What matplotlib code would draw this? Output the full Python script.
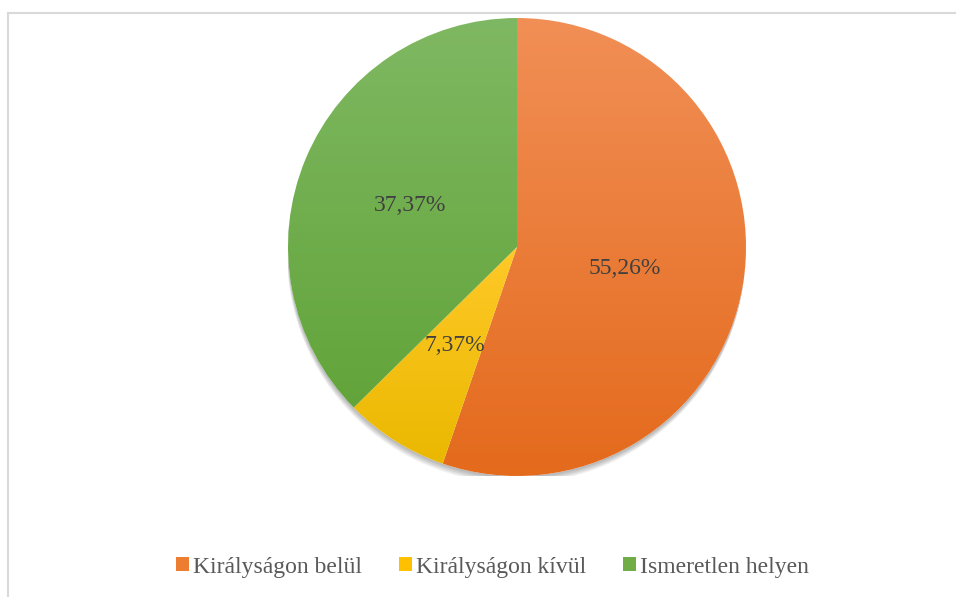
import matplotlib.pyplot as plt
import numpy as np
from matplotlib.colors import LinearSegmentedColormap
from matplotlib.patches import Circle
from matplotlib.lines import Line2D

# adatok
kategoriak = ["Királyságon belül", "Királyságon kívül", "Ismeretlen helyen"]
ertekek = [55.26, 7.37, 37.37]
cimkek = ["55,26%", "7,37%", "37,37%"]
cimke_pozicio = [(0.472, -0.092), (-0.271, -0.428), (-0.467, 0.183)]
szin_felso = ["#F18F56", "#FFC928", "#7FB862"]
szin_also = ["#E46A1C", "#EAB800", "#62A43A"]
szin_legenda = ["#ED7D31", "#FFC000", "#70AD47"]

plt.rcParams['font.family'] = ['Liberation Serif', 'DejaVu Serif']

fig = plt.figure(figsize=(9.56, 5.97), dpi=100)
W, H = 956, 597

# keret (felso es bal vonal)
fig.add_artist(Line2D([7.5 / W, 1], [1 - 12.5 / H, 1 - 12.5 / H], color="#D9D9D9", lw=1.5))
fig.add_artist(Line2D([7.5 / W, 7.5 / W], [0, 1 - 12.5 / H], color="#D9D9D9", lw=1.5))

cx, cy, r = 517, 247, 229
ax = fig.add_axes([(cx - r) / W, (H - cy - r) / H, 2 * r / W, 2 * r / H])
ax.set_xlim(-1, 1)
ax.set_ylim(-1, 1)
ax.set_aspect('equal')
ax.axis('off')

# arnyek
for i in range(5):
    ax.add_patch(Circle((-0.001 * i, -0.008 - i * 0.006), 1.0, color="black",
                        alpha=0.06, lw=0, zorder=0))
ax.add_patch(Circle((0, 0), 1.0, color="white", lw=0, zorder=0.5))

wedges, _ = ax.pie(ertekek, startangle=90, counterclock=False, radius=1.0,
                   wedgeprops=dict(linewidth=0, facecolor="none"))

for w, c1, c2 in zip(wedges, szin_felso, szin_also):
    path = w.get_path()
    verts = w.get_transform().transform(path.vertices)
    verts = ax.transData.inverted().transform(verts)
    x0, x1 = verts[:, 0].min(), verts[:, 0].max()
    y0, y1 = verts[:, 1].min(), verts[:, 1].max()
    cmap = LinearSegmentedColormap.from_list("g", [c2, c1])
    grad = np.linspace(0, 1, 256).reshape(-1, 1)
    im = ax.imshow(grad, cmap=cmap, extent=[x0, x1, y0, y1], origin='lower',
                   aspect='auto', zorder=1)
    im.set_clip_path(w)
ax.set_xlim(-1, 1)
ax.set_ylim(-1, 1)

for t, (x, y) in zip(cimkek, cimke_pozicio):
    ax.text(x, y, t, ha='center', va='center', fontsize=17, color="#404040", zorder=3)

handles = [plt.Rectangle((0, 0), 1, 1, facecolor=c, edgecolor='none') for c in szin_legenda]
fig.legend(handles, kategoriak, loc='center', bbox_to_anchor=(492.5 / W, 1 - 567 / H),
           ncol=3, frameon=False, fontsize=17, handlelength=0.55, handleheight=0.55,
           handletextpad=0.17, columnspacing=1.57, labelcolor="#595959",
           borderpad=0, borderaxespad=0)

fig.savefig("out.png", dpi=100)
